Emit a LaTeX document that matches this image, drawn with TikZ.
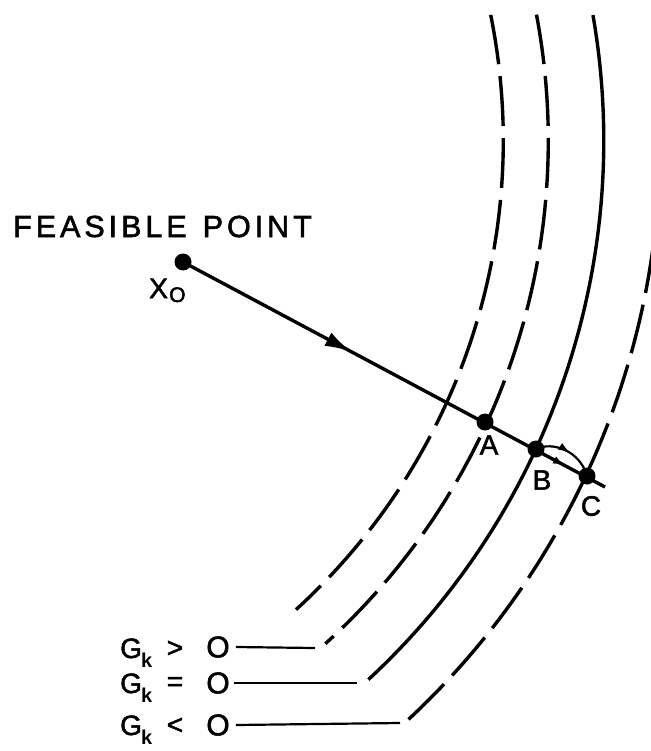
\documentclass[tikz,border=0pt]{standalone}
\usepackage{fontspec}
\setmainfont{Liberation Sans}
\usetikzlibrary{arrows.meta,decorations.markings}
\begin{document}
\begin{tikzpicture}[x=1pt,y=-1pt,
  solidcurve/.style={line width=3.4pt},
  dashcurve/.style={line width=3.4pt, dash pattern=on 50pt off 12pt},
  mainline/.style={line width=3.4pt},
  leader/.style={line width=2.2pt},
  dot/.style={circle,fill=black,inner sep=0pt,minimum size=17pt},
  lbl/.style={inner sep=0pt, font=\fontsize{28}{30}\selectfont\addfontfeature{FakeBold=1.8}},
  bigO/.style={inner sep=0pt, font=\fontsize{30}{32}\selectfont\addfontfeature{FakeBold=1.8}},
  subk/.style={inner sep=0pt, font=\fontsize{20}{22}\selectfont\bfseries},
  subo/.style={inner sep=0pt, font=\fontsize{21}{22}\selectfont\addfontfeature{FakeBold=2.5}}]
\useasboundingbox (0,0) rectangle (650,751);

% level curves: concentric circular arcs, centre (-130.7,140.7)
\def\cx{-130.7}\def\cy{140.7}
\draw[dashcurve] plot[domain=-11.45:47.7, samples=120, smooth] ({\cx+634*cos(\x)},{\cy+634*sin(\x)});
\draw[dashcurve] plot[domain=-10.7:47.8, samples=120, smooth] ({\cx+679*cos(\x)},{\cy+679*sin(\x)});
\draw[solidcurve] plot[domain=-9.85:47.2, samples=120, smooth] ({\cx+734.5*cos(\x)},{\cy+734.5*sin(\x)});
\draw[dashcurve] plot[domain=-6:47.1, samples=120, smooth] ({\cx+791*cos(\x)},{\cy+791*sin(\x)});

% points
\node[dot] (X0) at (183,262) {};
\node[dot] (A) at (485,422) {};
\node[dot] (B) at (536,449) {};
\node[dot] (C) at (587,476) {};
\coordinate (E) at (605,487);

% search line
\draw[mainline, postaction={decorate}, decoration={markings,
   mark=at position 0.40 with {\arrow{Latex[length=27pt,width=15pt]}},
   mark=at position 0.905 with {\arrow{Latex[length=12pt,width=8pt]}}}]
   (X0.center) -- (E);
\draw[line width=2.2pt, postaction={decorate}, decoration={markings,
   mark=at position 0.55 with {\arrow{Latex[length=12pt,width=8pt]}}}]
   (B.center) .. controls (553,441) and (580,451) .. (C.center);

% labels
\node[inner sep=0pt, anchor=base west, font=\fontsize{30.5}{32}\selectfont\addfontfeature{LetterSpace=13,FakeBold=1.8}] (fp) at (13,237) {FEASIBLE\hspace{16pt}POINT};
\node[lbl, anchor=base west] (Xl) at (149,298) {X};
\node[subo, anchor=base west] (Xs) at (169,302) {O};
\node[lbl] (Al) at (489,445) {A};
\node[lbl] (Bl) at (542,480) {B};
\node[lbl] (Cl) at (591,506) {C};

% legend
\node[lbl, anchor=base west] (G1) at (120,658) {G};
\node[subk, anchor=base west] (k1) at (141,667) {k};
\node[lbl] (r1) at (175,649) {>};
\node[bigO] (O1) at (218,647) {O};
\coordinate (L1) at (315,648);
\draw[leader] ([xshift=6pt]O1.east) -- (L1);

\node[lbl, anchor=base west] (G2) at (120,693) {G};
\node[subk, anchor=base west] (k2) at (141,702) {k};
\node[lbl] (r2) at (175,684) {=};
\node[bigO] (O2) at (218,683) {O};
\coordinate (L2) at (357,683);
\draw[leader] ([xshift=4pt]O2.east) -- (L2);

\node[lbl, anchor=base west] (G3) at (120,735) {G};
\node[subk, anchor=base west] (k3) at (141,744) {k};
\node[lbl] (r3) at (175,726) {<};
\node[bigO] (O3) at (218,725) {O};
\coordinate (L3) at (400,723);
\draw[leader] ([xshift=6pt]O3.east) -- (L3);
\end{tikzpicture}
\end{document}
